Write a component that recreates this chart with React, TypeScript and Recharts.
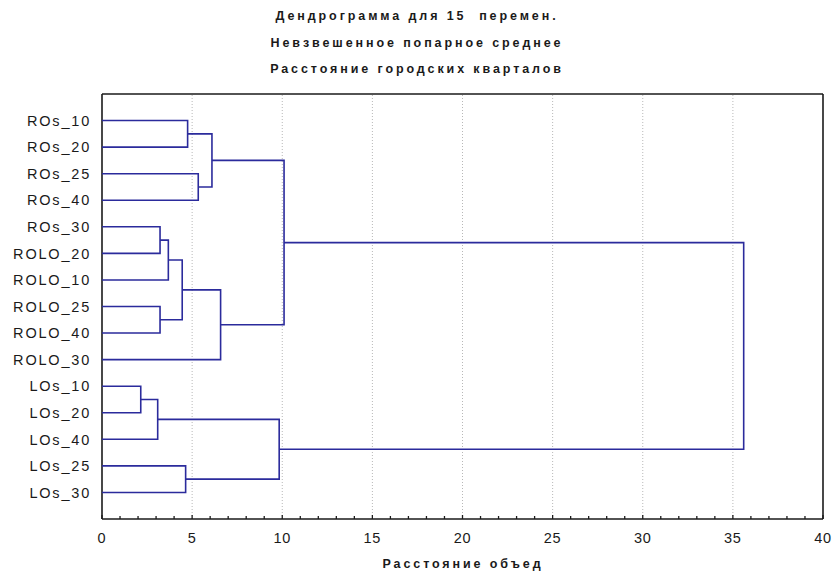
import { ScatterChart, Scatter, XAxis, YAxis, ReferenceLine } from "recharts";

// leaves, top to bottom as drawn
const LEAVES = [
  "ROs_10", "ROs_20", "ROs_25", "ROs_40", "ROs_30",
  "ROLO_20", "ROLO_10", "ROLO_25", "ROLO_40", "ROLO_30",
  "LOs_10", "LOs_20", "LOs_40", "LOs_25", "LOs_30",
];

// joins: ids 0..14 are leaves, join k gets id 15 + k
const JOINS: [number, number][] = [
  [10, 11], [15, 12], [4, 5], [7, 8], [17, 6], [19, 18], [13, 14],
  [0, 1], [2, 3], [22, 23], [20, 9], [16, 21], [24, 25], [27, 26],
];
const JOIN_DIST = [2.15, 3.09, 3.22, 3.22, 3.68, 4.45, 4.64, 4.75, 5.34, 6.1, 6.58, 9.83, 10.1, 35.6];

const X_TICKS = Array.from({ length: 41 }, (_, i) => i);
const X_GRID = [5, 10, 15, 20, 25, 30, 35];
const Y_TICKS = LEAVES.map((_, i) => i);

const LINK = "#2b2b9c";
const INK = "#1a1a1a";
const FONT = "'Liberation Sans', Arial, sans-serif";

// node positions: x = join distance, y = leaf row (mean of children)
const nodes: { x: number; y: number }[] = LEAVES.map((_, i) => ({ x: 0, y: i }));
const links = JOINS.map(([a, b], k) => {
  const h = JOIN_DIST[k];
  const A = nodes[a], B = nodes[b];
  nodes.push({ x: h, y: (A.y + B.y) / 2 });
  return [
    { x: A.x, y: A.y },
    { x: h, y: A.y },
    { x: h, y: B.y },
    { x: B.x, y: B.y },
  ];
});

const noDot = () => <g />;

const BottomTick = ({ x, y, payload }: any) => {
  const major = payload.value % 5 === 0;
  return (
    <g>
      <line x1={x} x2={x} y1={y} y2={y - (major ? 4 : 3)} stroke={INK} strokeWidth={1.3} />
      {major && (
        <text x={x} y={y + 24} textAnchor="middle" fontSize={14.5} fill={INK} letterSpacing={0.8} fontFamily={FONT}>
          {payload.value}
        </text>
      )}
    </g>
  );
};

const TopTick = ({ x, y, payload }: any) => (
  <line x1={x} x2={x} y1={y} y2={y + (payload.value % 5 === 0 ? 4 : 3)} stroke={INK} strokeWidth={1.3} />
);

const LeftTick = ({ x, y, payload }: any) => (
  <text x={x - 11} y={y} dy="0.36em" textAnchor="end" fontSize={14.5} fill={INK} letterSpacing={1.8} fontFamily={FONT}>
    {LEAVES[payload.value]}
  </text>
);

const RightTick = ({ x, y }: any) => (
  <line x1={x} x2={x - 4} y1={y} y2={y} stroke={INK} strokeWidth={1.3} />
);

const titleStyle = (top: number): React.CSSProperties => ({
  position: "absolute", left: 0, width: 834, top, textAlign: "center",
  fontFamily: FONT, fontSize: 12.5, fontWeight: "bold", letterSpacing: 2.9, color: INK,
});

export default function App() {
  return (
    <div style={{ position: "absolute", left: 0, top: 0, width: 834, height: 576, background: "#fff" }}>
      <div style={titleStyle(9)}>Дендрограмма для 15&nbsp; перемен.</div>
      <div style={titleStyle(36)}>Невзвешенное попарное среднее</div>
      <div style={titleStyle(62)}>Расстояние городских кварталов</div>
      <div style={{ ...titleStyle(557), left: 102, width: 722 }}>Расстояние объед</div>

      <ScatterChart width={834} height={576} margin={{ top: 84, right: 1, bottom: 27, left: 42 }}>
        {X_GRID.map((v) => (
          <ReferenceLine key={v} x={v} xAxisId="b" yAxisId="l" stroke="#b8b8b8" strokeDasharray="1 2" strokeWidth={1} />
        ))}
        <XAxis
          xAxisId="b" orientation="bottom" type="number" dataKey="x" domain={[0, 40]} ticks={X_TICKS}
          interval={0} height={30} tickSize={0} tickMargin={0} tickLine={false}
          axisLine={{ stroke: INK, strokeWidth: 1.6 }} tick={<BottomTick />}
        />
        <XAxis
          xAxisId="t" orientation="top" type="number" dataKey="x" domain={[0, 40]} ticks={X_TICKS}
          interval={0} height={10} tickSize={0} tickMargin={0} tickLine={false}
          axisLine={{ stroke: INK, strokeWidth: 1.6 }} tick={<TopTick />}
        />
        <YAxis
          yAxisId="l" orientation="left" type="number" dataKey="y" domain={[-1, 15]} reversed ticks={Y_TICKS}
          interval={0} width={60} tickSize={0} tickMargin={0} tickLine={false}
          axisLine={{ stroke: INK, strokeWidth: 1.6 }} tick={<LeftTick />}
        />
        <YAxis
          yAxisId="r" orientation="right" type="number" dataKey="y" domain={[-1, 15]} reversed ticks={Y_TICKS}
          interval={0} width={10} tickSize={0} tickMargin={0} tickLine={false}
          axisLine={{ stroke: INK, strokeWidth: 1.6 }} tick={<RightTick />}
        />
        {links.map((pts, i) => (
          <Scatter
            key={i} data={pts} xAxisId="b" yAxisId="l" line={{ stroke: LINK, strokeWidth: 1.6 }}
            lineType="joint" shape={noDot} fill="none" isAnimationActive={false}
          />
        ))}
      </ScatterChart>
    </div>
  );
}
